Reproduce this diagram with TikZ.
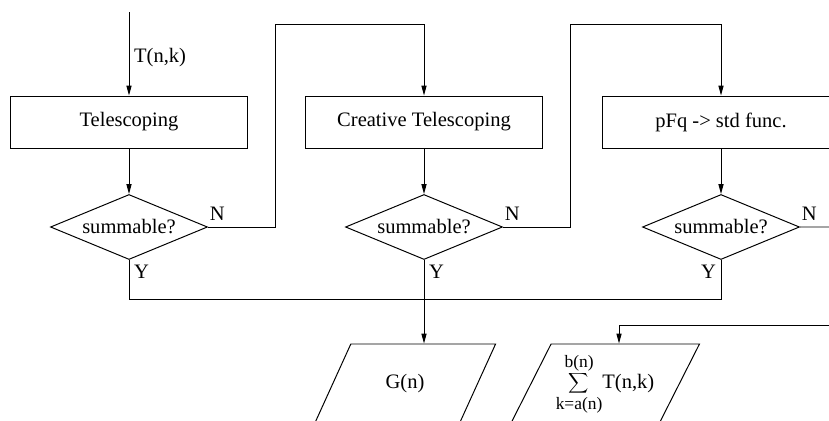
\documentclass[tikz,border=0pt]{standalone}
\usepackage{graphicx}
\usepackage{fontspec}
\setmainfont{Liberation Serif}
\usetikzlibrary{shapes.geometric, arrows.meta}
\tikzstyle{process} = [rectangle, minimum width=5.925cm, minimum height=1.3cm, text centered, draw=black]
\tikzstyle{decision} = [diamond, aspect=2.4, inner sep=0pt, minimum width=3.925cm, minimum height=1.625cm, text centered, draw=black]
\tikzstyle{io} = [trapezium, trapezium left angle=60, trapezium right angle=120, trapezium stretches=true, minimum width=4.55cm, minimum height=2cm, text centered, draw=black]
\tikzstyle{arrow} = [->, >={Triangle[length=7pt,width=3.6pt]}]
\tikzstyle{nlbl} = [above right, inner xsep=1pt, inner ysep=4.5pt]
\newcommand{\limfont}{\fontsize{12.4pt}{14pt}\selectfont}
\newcommand{\bigsum}{\mathop{\vcenter{\hbox{\fontsize{22pt}{24pt}\selectfont$\displaystyle\sum$}}}}

\begin{document}
\begin{tikzpicture}[node distance=2.625cm, line width=0.7pt, font=\fontsize{14.6pt}{17pt}\selectfont]
    \useasboundingbox (0,0) rectangle (20.725,-10.5);
    %nodes
    \node (tele) [process] at (3.225,-3.05) {Telescoping};
    \node (ctele) [process, right of=tele, node distance=7.375cm] {Creative Telescoping};
    \node (pfq) [process, right of=ctele, node distance=7.425cm] {pFq -> std func.};
    \node (dec1) [decision, below of=tele] {summable?};
    \node (dec2) [decision, below of=ctele] {summable?};
    \node (dec3) [decision, below of=pfq] {summable?};
    \node (out1) [io, below of=dec2, node distance=3.925cm, xshift=-0.475cm] {G(n)};
    \node (out2) [io, right of=out1, node distance=5cm] {$\bigsum\limits_{\mbox{\limfont k=a(n)}}^{\mbox{\limfont b(n)}}$T(n,k)};
    \coordinate (in) at (3.225,-0.3);
    \coordinate (nout) at (20.725,-5.675);
    \coordinate (sumin) at (20.725,-8.125);

    %arrows
    \draw [arrow] (in) -- node (tnk) [right, pos=0.54] {T(n,k)} (tele);
    \draw [arrow] (tele) -- (dec1);
    \draw [arrow] (ctele) -- (dec2);
    \draw [arrow] (pfq) -- (dec3);

    \draw [arrow] (dec1.east) -| ++(1.675,5.075) -| (ctele.north);
    \draw [arrow] (dec2.east) -| ++(1.675,5.075) -| (pfq.north);
    \draw (dec3.east) -- (nout);
    \node (n1) [nlbl] at (dec1.east) {N};
    \node (n2) [nlbl] at (dec2.east) {N};
    \node (n3) [nlbl] at (dec3.east) {N};

    \draw (dec1.south) -- ++(0,-0.975) -| (dec3.south);
    \node (y1) [below right] at (dec1.south) {Y};
    \node (y2) [below right] at (dec2.south) {Y};
    \node (y3) [below left] at (dec3.south) {Y};
    \draw [arrow] (dec2.south) -- (dec2.south |- out1.north);
    \draw [arrow] (sumin) -| ([xshift=0.35cm]out2.north);

\end{tikzpicture}
\end{document}
